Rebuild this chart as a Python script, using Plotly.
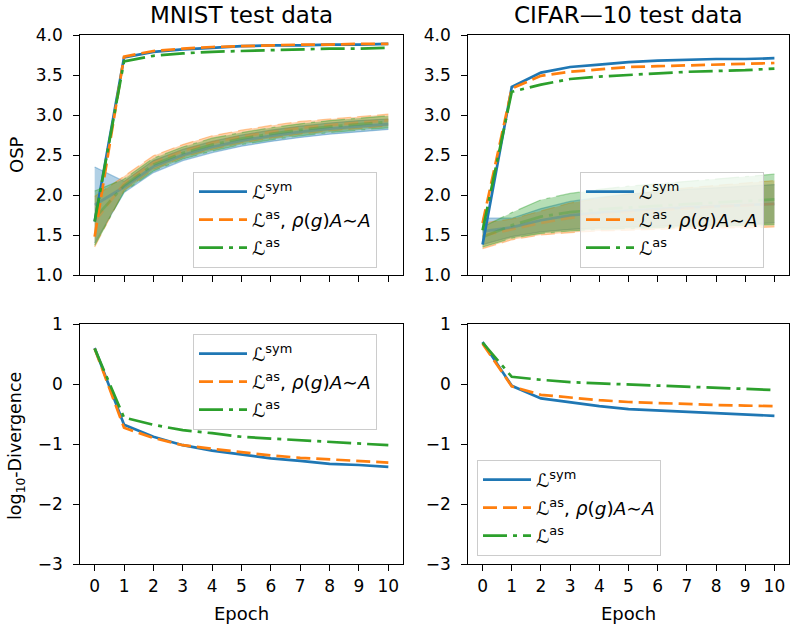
import plotly.graph_objects as go

epochs = list(range(11))
xticks = list(range(11))

names = ["ℒ<sup>sym</sup>",
         "ℒ<sup>as</sup>, <i>ρ</i>(<i>g</i>)<i>A</i>∼<i>A</i>",
         "ℒ<sup>as</sup>"]

# ---- MNIST OSP (upper curves)
mnist_osp_sym = [1.67, 3.72, 3.79, 3.82, 3.84, 3.86, 3.87, 3.87, 3.88, 3.88, 3.89]
mnist_osp_asr = [1.48, 3.73, 3.80, 3.83, 3.85, 3.86, 3.87, 3.88, 3.88, 3.89, 3.89]
mnist_osp_as = [1.67, 3.67, 3.74, 3.77, 3.79, 3.80, 3.81, 3.82, 3.83, 3.83, 3.84]
# ---- MNIST OSP bands (lower curves)
mnist_band_sym_lo = [1.40, 2.03, 2.28, 2.43, 2.53, 2.61, 2.67, 2.72, 2.76, 2.79, 2.82]
mnist_band_sym_hi = [2.35, 2.17, 2.43, 2.57, 2.67, 2.75, 2.81, 2.86, 2.90, 2.93, 2.95]
mnist_band_asr_lo = [1.35, 2.06, 2.32, 2.47, 2.57, 2.65, 2.71, 2.76, 2.80, 2.83, 2.86]
mnist_band_asr_hi = [1.98, 2.23, 2.49, 2.63, 2.74, 2.81, 2.87, 2.92, 2.95, 2.98, 3.01]
mnist_band_as_lo = [1.37, 2.04, 2.30, 2.45, 2.55, 2.63, 2.69, 2.74, 2.78, 2.81, 2.84]
mnist_band_as_hi = [2.05, 2.20, 2.46, 2.60, 2.71, 2.78, 2.84, 2.89, 2.93, 2.96, 2.99]

# ---- CIFAR-10 OSP (upper curves)
cifar_osp_sym = [1.38, 3.35, 3.53, 3.60, 3.63, 3.66, 3.68, 3.69, 3.70, 3.70, 3.71]
cifar_osp_asr = [1.65, 3.33, 3.49, 3.54, 3.57, 3.60, 3.61, 3.62, 3.63, 3.64, 3.65]
cifar_osp_as = [1.56, 3.29, 3.38, 3.45, 3.48, 3.50, 3.52, 3.54, 3.55, 3.56, 3.58]
# ---- CIFAR-10 OSP bands (lower curves)
cifar_band_sym_lo = [1.38, 1.48, 1.54, 1.57, 1.59, 1.60, 1.61, 1.62, 1.63, 1.64, 1.65]
cifar_band_sym_hi = [1.71, 1.71, 1.83, 1.92, 1.97, 2.01, 2.04, 2.07, 2.09, 2.11, 2.13]
cifar_band_asr_lo = [1.33, 1.44, 1.50, 1.53, 1.55, 1.56, 1.57, 1.58, 1.59, 1.59, 1.60]
cifar_band_asr_hi = [1.65, 1.70, 1.80, 1.90, 1.96, 2.01, 2.05, 2.09, 2.12, 2.15, 2.18]
cifar_band_as_lo = [1.35, 1.46, 1.52, 1.55, 1.57, 1.58, 1.59, 1.60, 1.61, 1.62, 1.63]
cifar_band_as_hi = [1.60, 1.78, 1.94, 2.02, 2.07, 2.11, 2.14, 2.17, 2.20, 2.23, 2.26]

# ---- log10 divergence
mnist_div_sym = [0.60, -0.68, -0.88, -1.02, -1.11, -1.17, -1.24, -1.28, -1.33, -1.35, -1.38]
mnist_div_asr = [0.59, -0.73, -0.90, -1.02, -1.08, -1.14, -1.19, -1.23, -1.26, -1.28, -1.31]
mnist_div_as = [0.59, -0.56, -0.68, -0.77, -0.82, -0.88, -0.91, -0.94, -0.97, -1.00, -1.02]
cifar_div_sym = [0.70, -0.03, -0.24, -0.31, -0.37, -0.42, -0.44, -0.47, -0.49, -0.51, -0.53]
cifar_div_asr = [0.67, -0.04, -0.18, -0.23, -0.27, -0.30, -0.32, -0.34, -0.35, -0.36, -0.37]
cifar_div_as = [0.69, 0.12, 0.07, 0.03, 0.01, -0.01, -0.03, -0.05, -0.07, -0.09, -0.10]

osp_ticks = [1.0, 1.5, 2.0, 2.5, 3.0, 3.5, 4.0]
osp_ticktext = ["1.0", "1.5", "2.0", "2.5", "3.0", "3.5", "4.0"]
div_ticks = [-3, -2, -1, 0, 1]
div_ticktext = ["−3", "−2", "−1", "0", "1"]

colors = ["#1f77b4", "#ff7f0e", "#2ca02c"]
rgba = ["rgba(31,119,180,{a})", "rgba(255,127,14,{a})", "rgba(44,160,44,{a})"]
dashes = ["solid", "14px,6px", "24px,6px,4px,6px"]
LW = 2.7
FONT = "DejaVu Sans"
PAD = "\u2009\u2009"

fig = go.Figure()

def add_bands(xa, ya, bands):
    for i, (lo, hi) in enumerate(bands):
        fig.add_trace(go.Scatter(x=epochs, y=lo, xaxis=xa, yaxis=ya, mode="lines",
                                 line=dict(color=rgba[i].format(a=0.4), width=1.2, dash=dashes[i]),
                                 showlegend=False, hoverinfo="skip"))
        fig.add_trace(go.Scatter(x=epochs, y=hi, xaxis=xa, yaxis=ya, mode="lines",
                                 line=dict(color=rgba[i].format(a=0.4), width=1.2, dash=dashes[i]),
                                 fill="tonexty", fillcolor=rgba[i].format(a=0.35),
                                 showlegend=False, hoverinfo="skip"))
    for i, (lo, hi) in enumerate(bands):
        mid = [(a + b) / 2 for a, b in zip(lo, hi)]
        fig.add_trace(go.Scatter(x=epochs, y=mid, xaxis=xa, yaxis=ya, mode="lines",
                                 line=dict(color=rgba[i].format(a=0.3), width=LW, dash=dashes[i]),
                                 showlegend=False, hoverinfo="skip"))

def add_lines(xa, ya, ys, legend):
    for i, y in enumerate(ys):
        fig.add_trace(go.Scatter(x=epochs, y=y, xaxis=xa, yaxis=ya, mode="lines",
                                 name=names[i], legend=legend, legendgroup=legend + str(i),
                                 line=dict(color=colors[i], width=LW, dash=dashes[i])))

add_bands("x", "y", [(mnist_band_sym_lo, mnist_band_sym_hi),
                     (mnist_band_asr_lo, mnist_band_asr_hi),
                     (mnist_band_as_lo, mnist_band_as_hi)])
add_lines("x", "y", [mnist_osp_sym, mnist_osp_asr, mnist_osp_as], "legend")
add_bands("x2", "y2", [(cifar_band_sym_lo, cifar_band_sym_hi),
                       (cifar_band_asr_lo, cifar_band_asr_hi),
                       (cifar_band_as_lo, cifar_band_as_hi)])
add_lines("x2", "y2", [cifar_osp_sym, cifar_osp_asr, cifar_osp_as], "legend2")
add_lines("x3", "y3", [mnist_div_sym, mnist_div_asr, mnist_div_as], "legend3")
add_lines("x4", "y4", [cifar_div_sym, cifar_div_asr, cifar_div_as], "legend4")

W, H = 790, 628
def px(x): return x / W
def py(y): return 1 - y / H

xdom_l = [px(80), px(403)]
xdom_r = [px(468), px(789)]
ydom_t = [py(275), py(35)]
ydom_b = [py(564), py(324)]

axis_common = dict(showline=True, mirror=True, linecolor="black", linewidth=1.2,
                   ticks="outside", ticklen=6, tickwidth=1.2, tickcolor="black",
                   showgrid=False, zeroline=False, automargin=False,
                   tickfont=dict(family=FONT, size=17, color="black"))

def xax(dom, anchor, labels):
    d = dict(axis_common)
    d.update(domain=dom, anchor=anchor, range=[-0.5, 10.5], tickmode="array",
             tickvals=xticks, ticktext=[str(t) for t in xticks], showticklabels=labels)
    return d

def yax(dom, anchor, rng, tv, tt):
    d = dict(axis_common)
    d.update(domain=dom, anchor=anchor, range=rng, tickmode="array", tickvals=tv,
             ticktext=[t + PAD for t in tt])
    return d

legend_common = dict(bgcolor="rgba(255,255,255,0.8)", bordercolor="#cccccc", borderwidth=1,
                     font=dict(family=FONT, size=18.5, color="black"),
                     xanchor="left", yanchor="top", itemwidth=48, tracegroupgap=1,
                     traceorder="grouped")

def leg(x, y):
    d = dict(legend_common)
    d.update(x=px(x), y=py(y))
    return d

annotations = [
    dict(text="MNIST test data", x=(xdom_l[0] + xdom_l[1]) / 2, y=py(15), xref="paper", yref="paper",
         showarrow=False, font=dict(family=FONT, size=23, color="black"), xanchor="center", yanchor="middle"),
    dict(text="CIFAR—10 test data", x=(xdom_r[0] + xdom_r[1]) / 2, y=py(15), xref="paper", yref="paper",
         showarrow=False, font=dict(family=FONT, size=23, color="black"), xanchor="center", yanchor="middle"),
    dict(text="OSP", x=px(16), y=py(155), xref="paper", yref="paper", textangle=-90,
         showarrow=False, font=dict(family=FONT, size=18, color="black"), xanchor="center", yanchor="middle"),
    dict(text="log<sub>10</sub>-Divergence", x=px(17), y=py(446), xref="paper", yref="paper", textangle=-90,
         showarrow=False, font=dict(family=FONT, size=17.5, color="black"), xanchor="center", yanchor="middle"),
    dict(text="Epoch", x=(xdom_l[0] + xdom_l[1]) / 2, y=py(613), xref="paper", yref="paper",
         showarrow=False, font=dict(family=FONT, size=18, color="black"), xanchor="center", yanchor="middle"),
    dict(text="Epoch", x=(xdom_r[0] + xdom_r[1]) / 2, y=py(613), xref="paper", yref="paper",
         showarrow=False, font=dict(family=FONT, size=18, color="black"), xanchor="center", yanchor="middle"),
]

fig.update_layout(
    width=W, height=H, margin=dict(l=0, r=0, t=0, b=0),
    paper_bgcolor="white", plot_bgcolor="white",
    font=dict(family=FONT, color="black"),
    xaxis=xax(xdom_l, "y", False), yaxis=yax(ydom_t, "x", [1.0, 4.0], osp_ticks, osp_ticktext),
    xaxis2=xax(xdom_r, "y2", False), yaxis2=yax(ydom_t, "x2", [1.0, 4.0], osp_ticks, osp_ticktext),
    xaxis3=xax(xdom_l, "y3", True), yaxis3=yax(ydom_b, "x3", [-3, 1], div_ticks, div_ticktext),
    xaxis4=xax(xdom_r, "y4", True), yaxis4=yax(ydom_b, "x4", [-3, 1], div_ticks, div_ticktext),
    legend=leg(193, 172), legend2=leg(580, 172), legend3=leg(193, 334), legend4=leg(477, 460),
    annotations=annotations,
    showlegend=True,
)

fig.write_html("out.html", config={"displayModeBar": False},
               post_script="document.body.style.margin='0';document.body.style.overflow='hidden';")
